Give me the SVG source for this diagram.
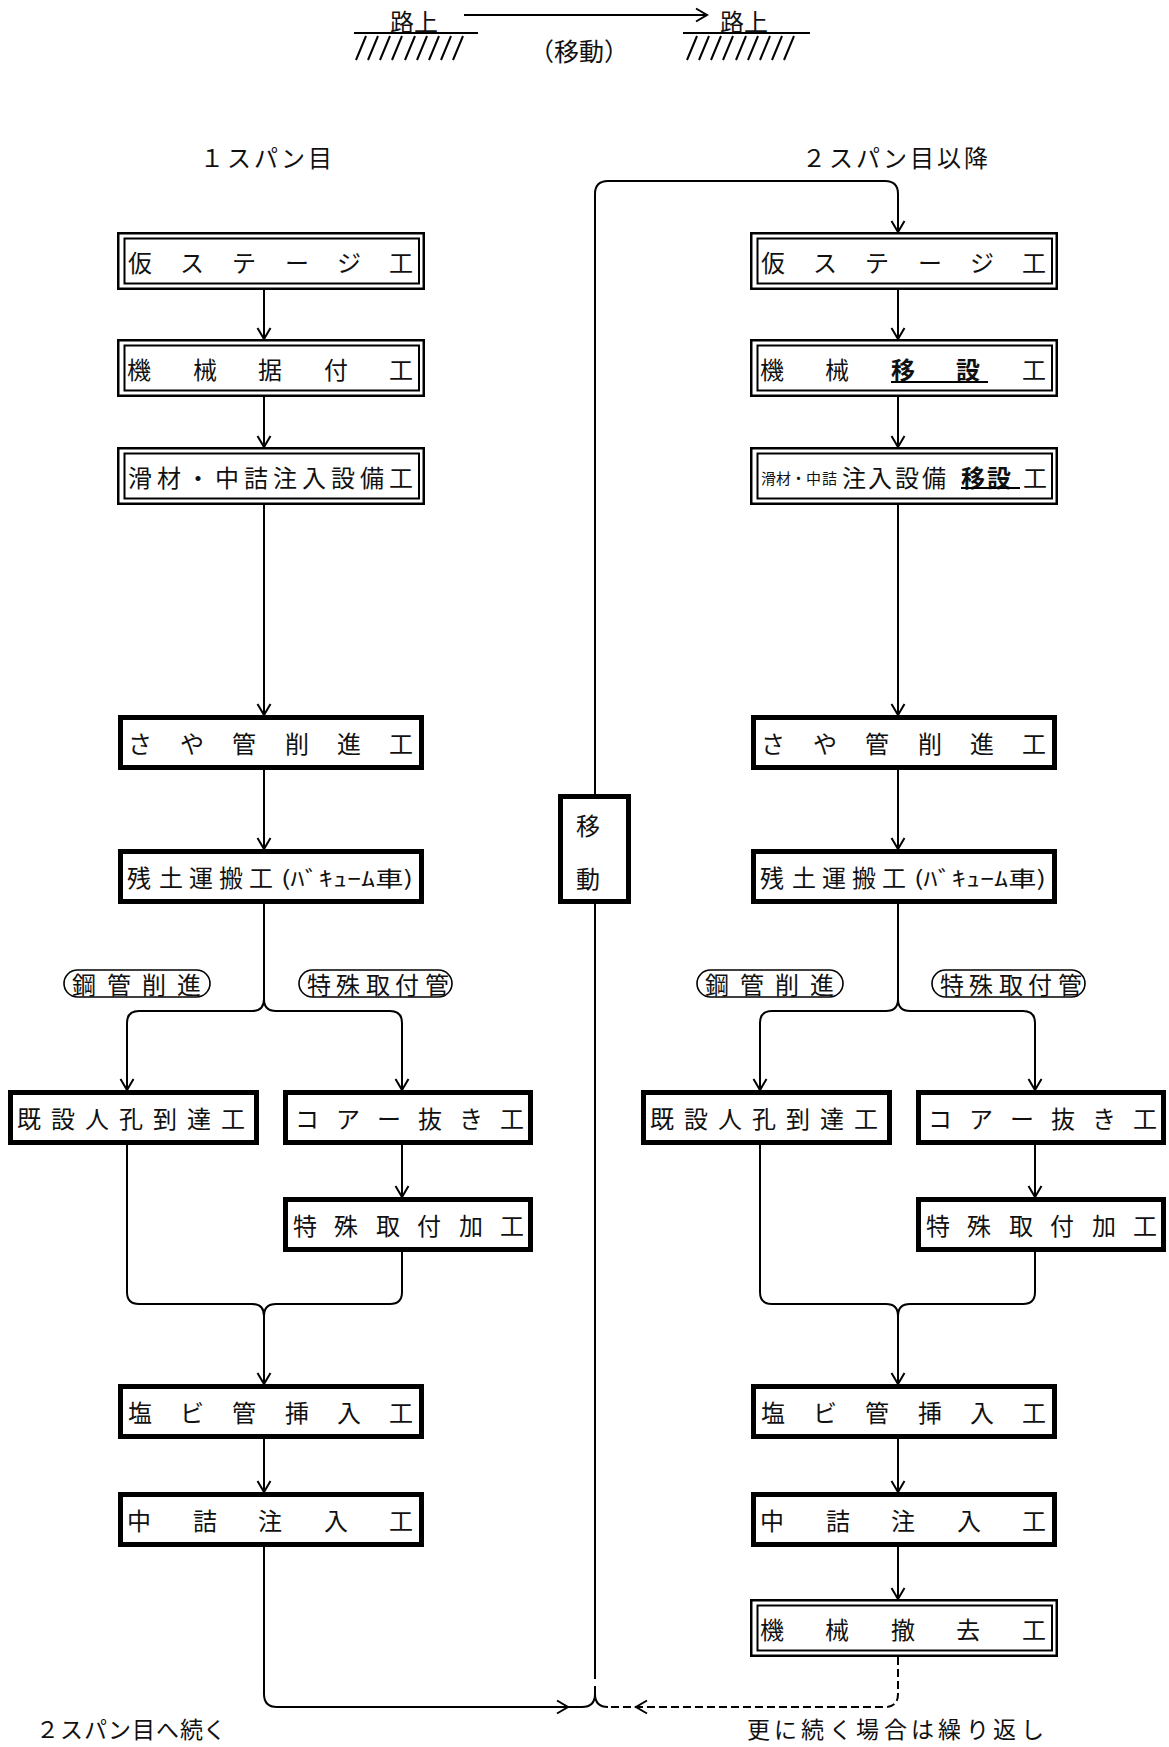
<svg xmlns="http://www.w3.org/2000/svg" width="1169" height="1747" viewBox="0 0 1169 1747">
<style>
.t{font-family:"Noto Sans CJK JP","Noto Sans CJK SC",sans-serif;font-size:24px;fill:#111;dominant-baseline:central}
.s{font-size:15px}
.b{font-weight:bold}
.ln{fill:none;stroke:#000;stroke-width:2}
.dash{stroke-dasharray:8 4}
.thick{fill:#fff;stroke:#000;stroke-width:5}
.dbo{fill:#fff;stroke:#000;stroke-width:2.5}
.dbi{fill:none;stroke:#000;stroke-width:2}
.pill{fill:#fff;stroke:#000;stroke-width:1.6}
.ul{stroke:#000;stroke-width:2}
</style>
<defs>
<marker id="ah" viewBox="-13 -8 15 16" refX="0" refY="0" markerWidth="15" markerHeight="16" markerUnits="userSpaceOnUse" orient="auto">
<path d="M-11,-6.5 L0,0 L-11,6.5" fill="none" stroke="#000" stroke-width="2"/>
</marker>
</defs>
<rect width="1169" height="1747" fill="#fff"/>

<!-- top legend -->
<g id="legend">
<text class="t" x="390" y="20">路上</text>
<path class="ln" d="M354,33 H478" stroke-width="1.8"/>
<path class="ln" stroke-width="1.6" d="M356,60 L366,36 M368,60 L378,36 M380,60 L390,36 M392,60 L402,36 M405,60 L415,36 M417,60 L427,36 M429,60 L439,36 M441,60 L451,36 M453,60 L463,36"/>
<path class="ln" d="M464,15 H707" marker-end="url(#ah)"/>
<text class="t" x="579" y="50" text-anchor="middle" style="font-size:25px">（移動）</text>
<text class="t" x="720" y="20">路上</text>
<path class="ln" d="M683,33 H810" stroke-width="1.8"/>
<path class="ln" stroke-width="1.6" d="M687,60 L697,36 M699,60 L709,36 M711,60 L721,36 M723,60 L733,36 M736,60 L746,36 M748,60 L758,36 M760,60 L770,36 M772,60 L782,36 M784,60 L794,36"/>
</g>

<g id="headers">
<text class="t" x="200 227 254 281 308" y="156">１スパン目</text>
<text class="t" x="802 829 856 883 910 937 964" y="156">２スパン目以降</text>
<text class="t" x="36 60 84 108 132 156 180" y="1728" style="font-size:23px">２スパン目へ続く</text>
<text class="t" x="747 774 801 829 856 884 911 938 966 993 1021" y="1728" style="font-size:23px">更に続く場合は繰り返し</text>
</g>

<!-- connectors -->
<g id="connectors">
<path class="ln" d="M264,290 V339" marker-end="url(#ah)"/>
<path class="ln" d="M264,397 V447" marker-end="url(#ah)"/>
<path class="ln" d="M264,505 V715" marker-end="url(#ah)"/>
<path class="ln" d="M264,770 V849" marker-end="url(#ah)"/>
<path class="ln" d="M264,904 V999 Q264,1011 252,1011 H139 Q127,1011 127,1023 V1090" marker-end="url(#ah)"/>
<path class="ln" d="M264,999 Q264,1011 276,1011 H390 Q402,1011 402,1023 V1090" marker-end="url(#ah)"/>
<path class="ln" d="M402,1145 V1197" marker-end="url(#ah)"/>
<path class="ln" d="M127,1145 V1292 Q127,1304 139,1304 H252 Q264,1304 264,1316 V1384" marker-end="url(#ah)"/>
<path class="ln" d="M402,1252 V1292 Q402,1304 390,1304 H276 Q264,1304 264,1316"/>
<path class="ln" d="M264,1439 V1492" marker-end="url(#ah)"/>
<path class="ln" d="M264,1547 V1694 Q264,1707 277,1707 H582"/>
<path class="ln" d="M557,1700.5 L568,1707 L557,1713.5"/>

<path class="ln" d="M898,290 V339" marker-end="url(#ah)"/>
<path class="ln" d="M898,397 V447" marker-end="url(#ah)"/>
<path class="ln" d="M898,505 V715" marker-end="url(#ah)"/>
<path class="ln" d="M898,770 V849" marker-end="url(#ah)"/>
<path class="ln" d="M898,904 V999 Q898,1011 886,1011 H772 Q760,1011 760,1023 V1090" marker-end="url(#ah)"/>
<path class="ln" d="M898,999 Q898,1011 910,1011 H1023 Q1035,1011 1035,1023 V1090" marker-end="url(#ah)"/>
<path class="ln" d="M1035,1145 V1197" marker-end="url(#ah)"/>
<path class="ln" d="M760,1145 V1292 Q760,1304 772,1304 H886 Q898,1304 898,1316 V1384" marker-end="url(#ah)"/>
<path class="ln" d="M1035,1252 V1292 Q1035,1304 1023,1304 H910 Q898,1304 898,1316"/>
<path class="ln" d="M898,1439 V1492" marker-end="url(#ah)"/>
<path class="ln" d="M898,1547 V1599" marker-end="url(#ah)"/>
<path class="ln dash" d="M898,1657 V1694 Q898,1707 885,1707 H608"/>
<path class="ln" d="M647,1700.5 L636,1707 L647,1713.5"/>

<path class="ln" d="M595,794 V194 Q595,181 608,181 H885 Q898,181 898,194 V232" marker-end="url(#ah)"/>
<path class="ln" d="M595,904 V1679"/>
<path class="ln" d="M582,1707 Q595,1707 595,1694 V1686 M608,1707 Q595,1707 595,1694"/>
</g>

<g id="labels">
<g id="lbl-L-koukan">
<rect class="pill" x="64" y="970" width="146" height="27" rx="13.5"/>
<text class="t" x="72 107 142 177" y="983.5">鋼管削進</text>
</g>
<g id="lbl-L-tokushu">
<rect class="pill" x="299" y="970" width="153" height="27" rx="13.5"/>
<text class="t" x="307 336 366 395 425" y="983.5">特殊取付管</text>
</g>
<g id="lbl-R-koukan">
<rect class="pill" x="697" y="970" width="146" height="27" rx="13.5"/>
<text class="t" x="705 740 775 810" y="983.5">鋼管削進</text>
</g>
<g id="lbl-R-tokushu">
<rect class="pill" x="932" y="970" width="153" height="27" rx="13.5"/>
<text class="t" x="940 969 999 1028 1058" y="983.5">特殊取付管</text>
</g>
</g>

<!-- left column -->
<g id="L1">
<rect class="dbo" x="118.25" y="233.25" width="305.5" height="55.5"/>
<rect class="dbi" x="124.5" y="238.5" width="294.5" height="45"/>
<text class="t" x="128 180 232 285 337 389" y="261">仮ステージ工</text>
</g>
<g id="L2">
<rect class="dbo" x="118.25" y="340.25" width="305.5" height="55.5"/>
<rect class="dbi" x="124.5" y="345.5" width="294.5" height="45"/>
<text class="t" x="127 193 258 324 389" y="368">機械据付工</text>
</g>
<g id="L3">
<rect class="dbo" x="118.25" y="448.25" width="305.5" height="55.5"/>
<rect class="dbi" x="124.5" y="453.5" width="294.5" height="45"/>
<text class="t" x="128 157 186 215 244 273 302 331 360 389" y="476">滑材・中詰注入設備工</text>
</g>
<g id="L4">
<rect class="thick" x="120.5" y="717.5" width="301" height="50"/>
<text class="t" x="128 180 232 285 337 389" y="742.5">さや管削進工</text>
</g>
<g id="L5">
<rect class="thick" x="120.5" y="851.5" width="301" height="50"/>
<text class="t" x="127 159 189 219 249" y="876.5">残土運搬工</text>
<text class="t" x="281" y="876.5" textLength="132" lengthAdjust="spacingAndGlyphs" style="font-size:21px">(ﾊﾞｷｭｰﾑ車)</text>
</g>
<g id="L6a">
<rect class="thick" x="10.5" y="1092.5" width="246" height="50"/>
<text class="t" x="17 51 85 119 153 187 221" y="1117.5">既設人孔到達工</text>
</g>
<g id="L6b">
<rect class="thick" x="285.5" y="1092.5" width="245" height="50"/>
<text class="t" x="295 336 377 418 459 500" y="1117.5">コアー抜き工</text>
</g>
<g id="L7">
<rect class="thick" x="285.5" y="1199.5" width="245" height="50"/>
<text class="t" x="293 334 376 417 459 500" y="1224.5">特殊取付加工</text>
</g>
<g id="L8">
<rect class="thick" x="120.5" y="1386.5" width="301" height="50"/>
<text class="t" x="128 180 232 285 337 389" y="1411.5">塩ビ管挿入工</text>
</g>
<g id="L9">
<rect class="thick" x="120.5" y="1494.5" width="301" height="50"/>
<text class="t" x="127 193 258 324 389" y="1519.5">中詰注入工</text>
</g>

<!-- move box -->
<g id="move">
<rect class="thick" x="560.5" y="796.5" width="68" height="105"/>
<text class="t" x="576" y="824">移</text>
<text class="t" x="576" y="877">動</text>
</g>

<!-- right column -->
<g id="R1">
<rect class="dbo" x="751.25" y="233.25" width="305.5" height="55.5"/>
<rect class="dbi" x="757.5" y="238.5" width="294.5" height="45"/>
<text class="t" x="761 813 865 918 970 1022" y="261">仮ステージ工</text>
</g>
<g id="R2">
<rect class="dbo" x="751.25" y="340.25" width="305.5" height="55.5"/>
<rect class="dbi" x="757.5" y="345.5" width="294.5" height="45"/>
<text class="t" x="760 825" y="368">機械</text>
<text class="t b" x="891 956" y="368">移設</text>
<text class="t" x="1022" y="368">工</text>
<line class="ul" x1="891" y1="382" x2="988" y2="382"/>
</g>
<g id="R3">
<rect class="dbo" x="751.25" y="448.25" width="305.5" height="55.5"/>
<rect class="dbi" x="757.5" y="453.5" width="294.5" height="45"/>
<text class="t s" x="761 776 791 806 822" y="477">滑材・中詰</text>
<text class="t" x="842 868 895 922" y="476">注入設備</text>
<text class="t b" x="961 987" y="476">移設</text>
<text class="t" x="1023" y="476">工</text>
<line class="ul" x1="961" y1="488" x2="1020" y2="488"/>
</g>
<g id="R4">
<rect class="thick" x="753.5" y="717.5" width="301" height="50"/>
<text class="t" x="761 813 865 918 970 1022" y="742.5">さや管削進工</text>
</g>
<g id="R5">
<rect class="thick" x="753.5" y="851.5" width="301" height="50"/>
<text class="t" x="760 792 822 852 882" y="876.5">残土運搬工</text>
<text class="t" x="914" y="876.5" textLength="132" lengthAdjust="spacingAndGlyphs" style="font-size:21px">(ﾊﾞｷｭｰﾑ車)</text>
</g>
<g id="R6a">
<rect class="thick" x="643.5" y="1092.5" width="246" height="50"/>
<text class="t" x="650 684 718 752 786 820 854" y="1117.5">既設人孔到達工</text>
</g>
<g id="R6b">
<rect class="thick" x="918.5" y="1092.5" width="245" height="50"/>
<text class="t" x="928 969 1010 1051 1092 1133" y="1117.5">コアー抜き工</text>
</g>
<g id="R7">
<rect class="thick" x="918.5" y="1199.5" width="245" height="50"/>
<text class="t" x="926 967 1009 1050 1092 1133" y="1224.5">特殊取付加工</text>
</g>
<g id="R8">
<rect class="thick" x="753.5" y="1386.5" width="301" height="50"/>
<text class="t" x="761 813 865 918 970 1022" y="1411.5">塩ビ管挿入工</text>
</g>
<g id="R9">
<rect class="thick" x="753.5" y="1494.5" width="301" height="50"/>
<text class="t" x="760 826 891 957 1022" y="1519.5">中詰注入工</text>
</g>
<g id="R10">
<rect class="dbo" x="751.25" y="1600.25" width="305.5" height="55.5"/>
<rect class="dbi" x="757.5" y="1605.5" width="294.5" height="45"/>
<text class="t" x="760 825 891 956 1022" y="1628">機械撤去工</text>
</g>
</svg>
